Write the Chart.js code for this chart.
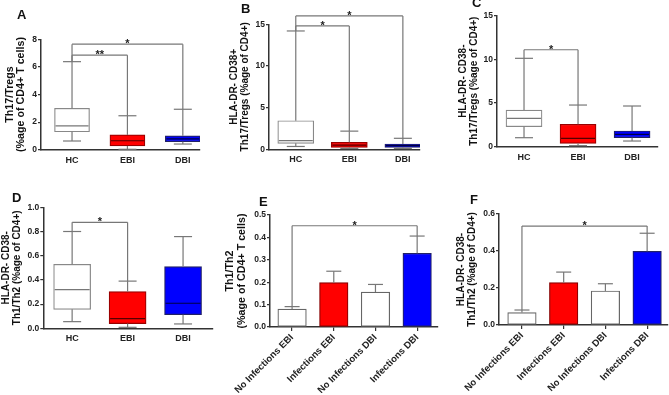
<!DOCTYPE html>
<html><head><meta charset="utf-8">
<script src="https://cdn.jsdelivr.net/npm/chart.js@4"></script>
<style>
html,body{margin:0;padding:0;background:#fff;}
#wrap{position:relative;width:669px;height:395px;overflow:hidden;background:#fff;}
canvas{position:absolute;left:0;top:0;}
.lbl{position:absolute;font:bold 13px "Liberation Sans",Arial,sans-serif;line-height:1;color:#111;}
</style></head><body>
<div id="wrap">
<canvas id="cA" width="669" height="395"></canvas>
<canvas id="cB" width="669" height="395"></canvas>
<canvas id="cC" width="669" height="395"></canvas>
<canvas id="cD" width="669" height="395"></canvas>
<canvas id="cE" width="669" height="395"></canvas>
<canvas id="cF" width="669" height="395"></canvas>
<div class="lbl" style="left:17px;top:8px">A</div>
<div class="lbl" style="left:241px;top:2px">B</div>
<div class="lbl" style="left:472px;top:-4px">C</div>
<div class="lbl" style="left:12px;top:191px">D</div>
<div class="lbl" style="left:259px;top:195px">E</div>
<div class="lbl" style="left:470px;top:193px">F</div>
</div>
<script>
// ---------- data ----------
const boxCats = ['HC', 'EBI', 'DBI'];
const barCats = ['No Infections EBI', 'Infections EBI', 'No Infections DBI', 'Infections DBI'];

// A: Th17/Tregs (%age of CD4+ T cells)
const aMin = [0.63, 0.03, 0.41];
const aQ1  = [1.30, 0.27, 0.58];
const aMed = [1.72, 0.65, 0.78];
const aQ3  = [3.00, 1.07, 1.01];
const aMax = [6.38, 2.46, 2.93];
const aSig = [[0, 2, 7.65, '*'], [0, 1, 6.85, '**']];
const aTicks = [0, 2, 4, 6, 8];

// B: HLA-DR- CD38+ Th17/Tregs
const bMin = [0.34, 0.10, 0.10];
const bQ1  = [0.72, 0.22, 0.24];
const bMed = [1.03, 0.50, 0.44];
const bQ3  = [3.43, 0.84, 0.64];
const bMax = [14.2, 2.18, 1.32];
const bSig = [[0, 2, 16.0, '*'], [0, 1, 14.8, '*']];
const bTicks = [0, 5, 10, 15];

// C: HLA-DR- CD38- Th17/Tregs
const cMin = [1.03, 0.12, 0.65];
const cQ1  = [2.29, 0.38, 1.03];
const cMed = [3.25, 0.96, 1.42];
const cQ3  = [4.20, 2.56, 1.80];
const cMax = [10.12, 4.77, 4.66];
const cSig = [[0, 1, 11.1, '*']];
const cTicks = [0, 5, 10, 15];

// D: HLA-DR- CD38- Th1/Th2
const dMin = [0.055, 0.008, 0.036];
const dQ1  = [0.157, 0.039, 0.113];
const dMed = [0.320, 0.080, 0.207];
const dQ3  = [0.529, 0.303, 0.510];
const dMax = [0.800, 0.390, 0.758];
const dSig = [[0, 1, 0.876, '*']];
const dTicks = [0, 0.2, 0.4, 0.6, 0.8, 1.0];

// E: Th1/Th2 (%age of CD4+ T cells)
const eMean = [0.080, 0.198, 0.156, 0.329];
const eErr  = [0.091, 0.249, 0.190, 0.406];
const eSig  = [[0, 3, 0.452, '*']];
const eTicks = [0, 0.1, 0.2, 0.3, 0.4, 0.5];

// F: HLA-DR- CD38- Th1/Th2
const fMean = [0.067, 0.229, 0.184, 0.398];
const fErr  = [0.081, 0.286, 0.223, 0.496];
const fSig  = [[0, 3, 0.535, '*']];
const fTicks = [0, 0.2, 0.4, 0.6];

// ---------- styles ----------
Chart.defaults.font.family = '"Liberation Sans", Arial, Helvetica, sans-serif';
Chart.defaults.font.weight = 'bold';
Chart.defaults.color = '#222';
const AX = '#333';
const WH = '#777';
const boxFill = ['#ffffff', '#ff0000', '#0000ff'];
const boxBorder = ['#888888', '#990000', '#222266'];
const boxMedCol = ['#777777', '#550000', '#000044'];
const barFill = ['#ffffff', '#ff0000', '#ffffff', '#0000ff'];
const barBorder = ['#666666', '#880000', '#666666', '#222266'];

function mkAnnot(name, ann) {
  return {
    id: 'annot' + name,
    afterDatasetsDraw(chart) {
      const ctx = chart.ctx, x = chart.scales.x, y = chart.scales.y;
      const px = i => x.getPixelForValue(i);
      const py = v => y.getPixelForValue(v);
      const line = (x1, y1, x2, y2) => { ctx.beginPath(); ctx.moveTo(x1, y1); ctx.lineTo(x2, y2); ctx.stroke(); };
      ctx.save();
      ctx.lineWidth = 1.2;
      const cw = ann.capW / 2;
      const tops = [];
      if (ann.kind === 'box') {
        const hw = ann.boxW / 2;
        ann.med.forEach((m, i) => {
          const cx = px(i);
          ctx.strokeStyle = WH;
          line(cx, py(ann.q3[i]), cx, py(ann.max[i]));
          line(cx - cw, py(ann.max[i]), cx + cw, py(ann.max[i]));
          line(cx, py(ann.q1[i]), cx, py(ann.min[i]));
          line(cx - cw, py(ann.min[i]), cx + cw, py(ann.min[i]));
          ctx.strokeStyle = boxMedCol[i];
          line(cx - hw + 1, py(m), cx + hw - 1, py(m));
          tops.push(ann.max[i]);
        });
      } else {
        ann.mean.forEach((m, i) => {
          const cx = px(i);
          ctx.strokeStyle = WH;
          line(cx, py(m), cx, py(ann.err[i]));
          line(cx - cw, py(ann.err[i]), cx + cw, py(ann.err[i]));
          tops.push(ann.err[i]);
        });
      }
      ann.sig.forEach(s => {
        const [i, j, v, lab] = s;
        const yy = py(v);
        ctx.strokeStyle = WH;
        line(px(i), yy, px(j), yy);
        line(px(i), yy, px(i), py(tops[i]));
        line(px(j), yy, px(j), py(tops[j]));
        ctx.fillStyle = '#222';
        ctx.font = 'bold 11px "Liberation Sans", Arial, sans-serif';
        ctx.textAlign = 'center';
        ctx.textBaseline = 'alphabetic';
        ctx.fillText(lab, (px(i) + px(j)) / 2, yy + 3);
      });
      ctx.restore();
    }
  };
}

function panel(id, g, cats, dataset, ann) {
  const yW = g.axisX - g.padLeft;
  const gridOpt = {display: true, drawOnChartArea: false, drawTicks: true, tickLength: 4, color: AX, lineWidth: 1.2, offset: false};
  return new Chart(document.getElementById(id), {
    type: 'bar',
    data: {datasets: [dataset]},
    options: {
      responsive: false, animation: false, devicePixelRatio: 1,
      layout: {padding: {left: g.padLeft, top: g.topPx, right: 669 - g.axisEnd, bottom: 395 - g.y0Px - g.xH}},
      plugins: {legend: {display: false}, tooltip: {enabled: false}},
      scales: {
        x: {
          type: 'linear', min: g.xMin, max: g.xMax, offset: false, bounds: 'data',
          afterDataLimits: s => { s.min = g.xMin; s.max = g.xMax; },
          afterFit: s => { s.height = g.xH; },
          afterBuildTicks: s => { s.ticks = cats.map((c, i) => ({value: i})); s.min = g.xMin; s.max = g.xMax; },
          grid: Object.assign({}, gridOpt, {tickLength: g.xTick, color: g.xTick ? AX : 'rgba(0,0,0,0)'}),
          border: {display: true, color: AX, width: 1.5},
          ticks: {autoSkip: false, callback: v => cats[v], font: {size: g.xFont, weight: 'bold'}, color: '#222', padding: g.xTick ? 1 : 5, minRotation: g.rot, maxRotation: g.rot}
        },
        y: {
          type: 'linear', min: 0, max: g.yMax,
          afterFit: s => { s.width = yW; },
          afterBuildTicks: s => { s.ticks = g.ticks.map(v => ({value: v})); s.min = 0; s.max = g.yMax; },
          grid: Object.assign({}, gridOpt, {tickLength: 3}),
          border: {display: true, color: AX, width: 1.5},
          ticks: {callback: v => v.toFixed(g.dec), font: {size: 8.5, weight: 'bold'}, color: '#222', padding: 1},
          title: {display: true, text: g.title, font: {size: g.tFont, weight: 'bold', lineHeight: 1.1}, padding: 0, color: '#111'}
        }
      }
    },
    plugins: [mkAnnot(id, ann)]
  });
}

function boxDs(q1, q3, w) {
  return {data: boxCats.map((c, i) => ({x: i, y: [q1[i], q3[i]]})), backgroundColor: boxFill, borderColor: boxBorder, borderWidth: 1.2, borderSkipped: false, barThickness: w};
}
function barDs(mean, w) {
  return {data: barCats.map((c, i) => ({x: i, y: mean[i]})), backgroundColor: barFill, borderColor: barBorder, borderWidth: 1.2, borderSkipped: false, barThickness: w};
}

panel('cA', {axisX: 41, axisEnd: 200, topPx: 39.3, y0Px: 149.7, xMin: -0.56, xMax: 2.31, yMax: 8, ticks: aTicks, dec: 0, xH: 20, xFont: 9, xTick: 0, rot: 0, padLeft: 3.7, tFont: 10.7, title: ['Th17/Tregs', '(%age of CD4+ T cells)']},
  boxCats, boxDs(aQ1, aQ3, 35), {kind: 'box', min: aMin, q1: aQ1, med: aMed, q3: aQ3, max: aMax, sig: aSig, boxW: 35, capW: 18});

panel('cB', {axisX: 269, axisEnd: 420, topPx: 24.3, y0Px: 149.3, xMin: -0.50, xMax: 2.32, yMax: 15, ticks: bTicks, dec: 0, xH: 20, xFont: 9, xTick: 0, rot: 0, padLeft: 229, tFont: 10, title: ['HLA-DR- CD38+', 'Th17/Tregs (%age of CD4+)']},
  boxCats, boxDs(bQ1, bQ3, 36), {kind: 'box', min: bMin, q1: bQ1, med: bMed, q3: bQ3, max: bMax, sig: bSig, boxW: 36, capW: 18});

panel('cC', {axisX: 497, axisEnd: 658, topPx: 15.7, y0Px: 146.7, xMin: -0.50, xMax: 2.48, yMax: 15, ticks: cTicks, dec: 0, xH: 20, xFont: 9, xTick: 0, rot: 0, padLeft: 457.3, tFont: 10, title: ['HLA-DR- CD38-', 'Th17/Tregs (%age of CD4+)']},
  boxCats, boxDs(cQ1, cQ3, 36), {kind: 'box', min: cMin, q1: cQ1, med: cMed, q3: cQ3, max: cMax, sig: cSig, boxW: 36, capW: 18});

panel('cD', {axisX: 43.3, axisEnd: 213, topPx: 207.3, y0Px: 328.3, xMin: -0.52, xMax: 2.54, yMax: 1.0, ticks: dTicks, dec: 1, xH: 20, xFont: 9, xTick: 0, rot: 0, padLeft: 0.7, tFont: 10, title: ['HLA-DR- CD38-', 'Th1/Th2 (%age of CD4+)']},
  boxCats, boxDs(dQ1, dQ3, 37), {kind: 'box', min: dMin, q1: dQ1, med: dMed, q3: dQ3, max: dMax, sig: dSig, boxW: 37, capW: 18});

panel('cE', {axisX: 270, axisEnd: 438, topPx: 215, y0Px: 327, xMin: -0.53, xMax: 3.5, yMax: 0.5, ticks: eTicks, dec: 1, xH: 66, xFont: 9.5, xTick: 4, rot: 45, padLeft: 224, tFont: 10.7, title: ['Th1/Th2', '(%age of CD4+ T cells)']},
  barCats, barDs(eMean, 28.5), {kind: 'bar', mean: eMean, err: eErr, sig: eSig, capW: 15});

panel('cF', {axisX: 499, axisEnd: 668, topPx: 214, y0Px: 325, xMin: -0.55, xMax: 3.5, yMax: 0.6, ticks: fTicks, dec: 1, xH: 68, xFont: 9.5, xTick: 4, rot: 45, padLeft: 455.7, tFont: 10, title: ['HLA-DR- CD38-', 'Th1/Th2 (%age of CD4+)']},
  barCats, barDs(fMean, 28.5), {kind: 'bar', mean: fMean, err: fErr, sig: fSig, capW: 15});
</script>
</body></html>
